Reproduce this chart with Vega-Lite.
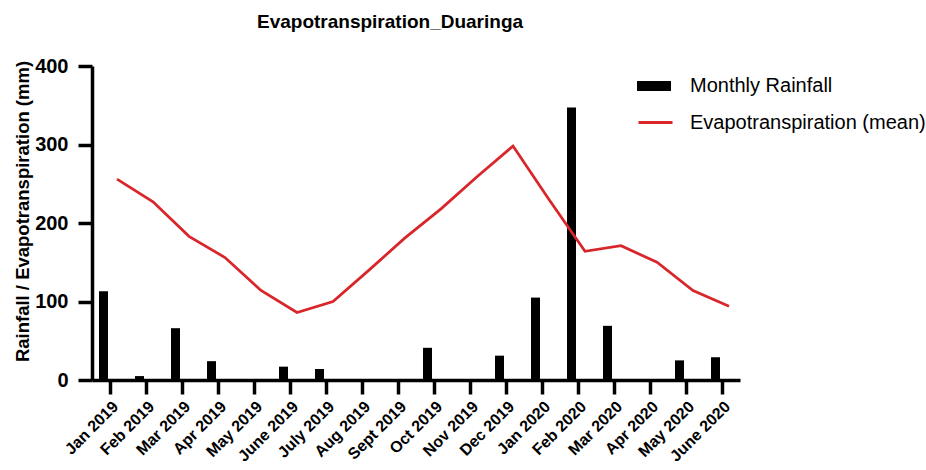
{
  "$schema": "https://vega.github.io/schema/vega-lite/v6.json",
  "width": 648,
  "height": 314,
  "autosize": {"type": "none"},
  "padding": {"left": 92, "top": 66, "right": 186, "bottom": 90},
  "background": "white",
  "config": {"font": "Liberation Sans", "view": {"stroke": null}},
  "title": {"text": "Evapotranspiration_Duaringa", "fontSize": 19, "fontWeight": "bold", "color": "black", "anchor": "start", "dx": 244, "offset": 24},
  "data": {"values": [
    {"month": "Jan 2019", "rainfall": 113, "et": 256},
    {"month": "Feb 2019", "rainfall": 5, "et": 227},
    {"month": "Mar 2019", "rainfall": 66, "et": 183},
    {"month": "Apr 2019", "rainfall": 24, "et": 156},
    {"month": "May 2019", "rainfall": 0, "et": 114},
    {"month": "June 2019", "rainfall": 17, "et": 86},
    {"month": "July 2019", "rainfall": 14, "et": 100},
    {"month": "Aug 2019", "rainfall": 0, "et": 140},
    {"month": "Sept 2019", "rainfall": 0, "et": 181},
    {"month": "Oct 2019", "rainfall": 41, "et": 218},
    {"month": "Nov 2019", "rainfall": 0, "et": 259},
    {"month": "Dec 2019", "rainfall": 31, "et": 298},
    {"month": "Jan 2020", "rainfall": 105, "et": 230},
    {"month": "Feb 2020", "rainfall": 347, "et": 164},
    {"month": "Mar 2020", "rainfall": 69, "et": 171},
    {"month": "Apr 2020", "rainfall": 0, "et": 150},
    {"month": "May 2020", "rainfall": 25, "et": 114},
    {"month": "June 2020", "rainfall": 29, "et": 94}
  ]},
  "encoding": {
    "x": {
      "field": "month", "type": "nominal", "sort": null,
      "scale": {"type": "band", "paddingInner": 0, "paddingOuter": 0},
      "axis": {"title": null, "labelAngle": -45, "labelFontSize": 16, "labelFontWeight": "bold", "labelColor": "black", "domainColor": "black", "domainWidth": 3.5, "tickColor": "black", "tickWidth": 3.5, "tickSize": 14, "labelPadding": 4}
    }
  },
  "layer": [
    {
      "mark": {"type": "bar", "width": 9, "xOffset": -6.5},
      "encoding": {
        "y": {"field": "rainfall", "type": "quantitative", "scale": {"domain": [0, 400]},
          "axis": {"title": "Rainfall / Evapotranspiration (mm)", "titleFontSize": 18.5, "titleFontWeight": "bold", "titleColor": "black", "values": [0, 100, 200, 300, 400], "labelFontSize": 20, "labelFontWeight": "bold", "labelColor": "black", "domainColor": "black", "domainWidth": 3.5, "tickColor": "black", "tickWidth": 3.5, "tickSize": 14, "labelPadding": 10, "grid": false, "titleX": -70, "titleY": 145, "titleAlign": "center", "titleBaseline": "middle", "titleAngle": 270}},
        "fill": {"datum": "Monthly Rainfall", "type": "nominal", "scale": {"range": ["black"]},
          "legend": {"title": null, "orient": "none", "legendX": 545, "legendY": 3, "padding": 0, "symbolType": "M-1,-0.29H1V0.29H-1Z", "symbolSize": 1156, "symbolStrokeWidth": 0, "labelFontSize": 20, "labelColor": "black", "labelOffset": 19, "labelLimit": 400}}
      }
    },
    {
      "mark": {"type": "line", "xOffset": 7, "strokeWidth": 2.75},
      "encoding": {
        "y": {"field": "et", "type": "quantitative", "scale": {"domain": [0, 400]},
          "axis": {"title": "Rainfall / Evapotranspiration (mm)", "titleFontSize": 18.5, "titleFontWeight": "bold", "titleColor": "black", "values": [0, 100, 200, 300, 400], "labelFontSize": 20, "labelFontWeight": "bold", "labelColor": "black", "domainColor": "black", "domainWidth": 3.5, "tickColor": "black", "tickWidth": 3.5, "tickSize": 14, "labelPadding": 10, "grid": false, "titleX": -70, "titleY": 145, "titleAlign": "center", "titleBaseline": "middle", "titleAngle": 270}},
        "stroke": {"datum": "Evapotranspiration (mean)", "type": "nominal", "scale": {"range": ["#d9262b"]},
          "legend": {"title": null, "orient": "none", "legendX": 545, "legendY": 38, "padding": 0, "symbolType": "stroke", "symbolSize": 1156, "symbolStrokeWidth": 3, "labelFontSize": 20, "labelColor": "black", "labelOffset": 16, "labelLimit": 400}}
      }
    }
  ]
}
